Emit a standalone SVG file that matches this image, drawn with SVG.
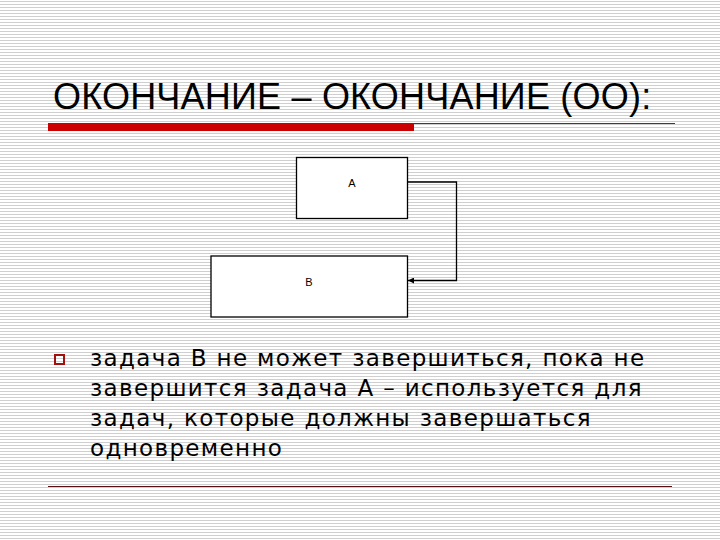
<svg xmlns="http://www.w3.org/2000/svg" width="720" height="540" viewBox="0 0 720 540">
  <defs>
    <pattern id="stripes" x="0" y="0" width="4" height="3" patternUnits="userSpaceOnUse">
      <rect x="0" y="0" width="4" height="3" fill="#ffffff"/>
      <rect x="0" y="1" width="4" height="1" fill="#cfcfcf"/>
    </pattern>
    <marker id="arrow" viewBox="0 0 10 10" refX="10" refY="5" markerWidth="6" markerHeight="6" orient="auto" markerUnits="userSpaceOnUse">
      <path d="M0,0 L10,5 L0,10 z" fill="#000"/>
    </marker>
    <style>
      .title { font-family: "Liberation Sans", Arial, sans-serif; font-size: 36px; fill: #000; letter-spacing: 0.2px; }
      .body { font-family: "DejaVu Sans", Verdana, sans-serif; font-size: 23px; fill: #000; letter-spacing: 1.35px; }
      .box { fill: #ffffff; stroke: #000; stroke-width: 1.3; }
      .lbl { font-family: "Liberation Sans", Arial, sans-serif; font-size: 11px; fill: #000; text-anchor: middle; }
      .conn { fill: none; stroke: #000; stroke-width: 1.3; }
    </style>
  </defs>
  <rect x="0" y="0" width="720" height="540" fill="url(#stripes)"/>

  <text class="title" x="53" y="109">ОКОНЧАНИЕ – ОКОНЧАНИЕ (ОО):</text>
  <rect x="48" y="123" width="366" height="8" fill="#cc0000"/>
  <line x1="414" y1="123.5" x2="675" y2="123.5" stroke="#8b1a1a" stroke-width="1"/>

  <g id="nodeA">
    <rect class="box" x="296.5" y="157.5" width="111" height="61"/>
    <text class="lbl" x="352" y="187">A</text>
  </g>
  <g id="nodeB">
    <rect class="box" x="211" y="256" width="196.5" height="61"/>
    <text class="lbl" x="309" y="286">B</text>
  </g>
  <g id="connectors">
    <polyline class="conn" points="407.5,182 456.5,182 456.5,280.5 408,280.5" marker-end="url(#arrow)"/>
  </g>

  <rect x="55" y="355" width="9" height="9" fill="none" stroke="#a01010" stroke-width="2"/>
  <text class="body">
    <tspan x="90" y="366">задача В не может завершиться, пока не</tspan>
    <tspan x="90" y="396">завершится задача А – используется для</tspan>
    <tspan x="90" y="426">задач, которые должны завершаться</tspan>
    <tspan x="90" y="456">одновременно</tspan>
  </text>
  <line x1="48" y1="486.5" x2="672" y2="486.5" stroke="#5a1010" stroke-width="1"/>
</svg>
